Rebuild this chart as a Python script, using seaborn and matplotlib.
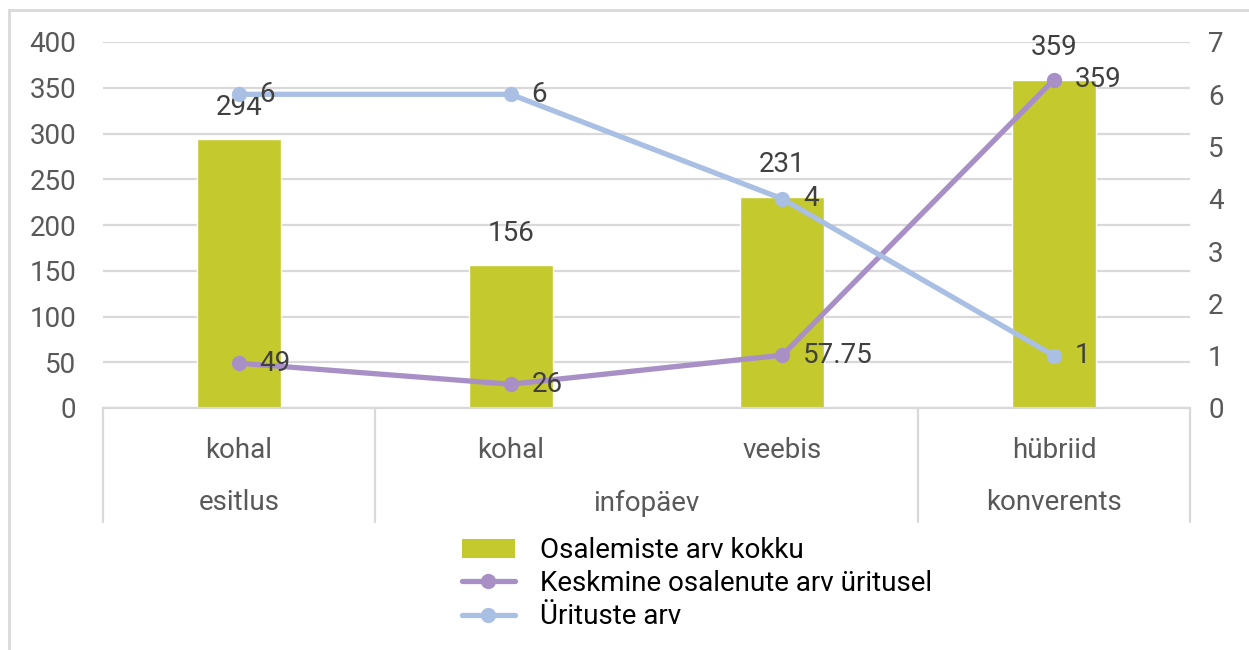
import numpy as np
import pandas as pd
import matplotlib
matplotlib.use("Agg")
import matplotlib.pyplot as plt
from matplotlib.patches import Rectangle
from matplotlib.lines import Line2D
from matplotlib.patches import Patch
import seaborn as sns

# ---- data ----
group_labels = ["esitlus", "infopäev", "infopäev", "konverents"]
sub_labels = ["kohal", "kohal", "veebis", "hübriid"]
total_participation = [294, 156, 231, 359]
avg_participants = [49, 26, 57.75, 359]
event_counts = [6, 6, 4, 1]
avg_label_text = ["49", "26", "57.75", "359"]

series_names = ["Osalemiste arv kokku", "Keskmine osalenute arv üritusel", "Ürituste arv"]

BAR_C = "#C4C92D"
PURPLE = "#A890C6"
BLUE = "#A9C0E4"
GRID = "#D9D9D9"
TICK = "#595959"
LABEL = "#404040"

sns.set_theme(style="white")
plt.rcParams["font.family"] = ["Roboto", "DejaVu Sans"]
FS = 20

keys = [f"{g}|{s}" for g, s in zip(group_labels, sub_labels)]
df = pd.DataFrame({"key": keys, "total": total_participation,
                   "avg": avg_participants, "count": event_counts})

fig = plt.figure(figsize=(12.49, 6.5), dpi=100)
ax = fig.add_axes([103/1249, 1-408/650, (1190-103)/1249, 366/650])

sns.barplot(data=df, x="key", y="total", order=keys, color=BAR_C,
            width=0.31, saturation=1, ax=ax, zorder=2)
ax.set_xlim(-0.5, 3.5)
ax.set_ylim(0, 400)
ax.set_yticks(np.arange(0, 401, 50))
ax.yaxis.grid(True, color=GRID, lw=1.6, zorder=0)
ax.set_axisbelow(True)
for s in ["top", "right", "left"]:
    ax.spines[s].set_visible(False)
ax.spines["bottom"].set_color(GRID)
ax.spines["bottom"].set_linewidth(1.6)
ax.tick_params(axis="y", labelsize=FS, labelcolor=TICK, length=0, pad=19)
ax.tick_params(axis="x", labelsize=FS, labelcolor=TICK, length=0, pad=21)
ax.set_xticks(range(len(keys)))
ax.set_xticklabels(sub_labels)
ax.set_xlabel("")
ax.set_ylabel("")

# purple line on primary axis
sns.lineplot(x=np.arange(len(keys)), y=avg_participants, ax=ax, color=PURPLE,
             lw=3.8, marker="o", markersize=11, markeredgewidth=0, zorder=4)

ax2 = ax.twinx()
sns.lineplot(x=np.arange(len(keys)), y=event_counts, ax=ax2, color=BLUE,
             lw=3.8, marker="o", markersize=11, markeredgewidth=0, zorder=4)
ax2.set_ylim(0, 7)
ax2.set_yticks(range(0, 8))
for s in ["top", "right", "left", "bottom"]:
    ax2.spines[s].set_visible(False)
ax2.tick_params(axis="y", labelsize=FS, labelcolor=TICK, length=0, pad=13)
ax2.set_ylabel("")
ax2.set_xlim(-0.5, 3.5)

# data labels
for i, v in enumerate(total_participation):
    ax.annotate(str(v), (i, v), xytext=(0, 23), textcoords="offset points",
                ha="center", va="center", fontsize=FS, color=LABEL, zorder=6)
for i, v in enumerate(avg_participants):
    ax.annotate(avg_label_text[i], (i, v), xytext=(15, 0), textcoords="offset points",
                ha="left", va="center", fontsize=FS, color=LABEL, zorder=6)
for i, v in enumerate(event_counts):
    ax2.annotate(str(v), (i, v), xytext=(15, 0), textcoords="offset points",
                 ha="left", va="center", fontsize=FS, color=LABEL, zorder=6)

# hierarchical axis: separators and group labels
sep_y = -114/366
for xs in [-0.5, 0.5, 2.5, 3.5]:
    ax.plot([xs, xs], [0, sep_y], transform=ax.get_xaxis_transform(),
            color=GRID, lw=1.6, clip_on=False)
groups = []
for i, g in enumerate(group_labels):
    if groups and groups[-1][0] == g:
        groups[-1][2] = i
    else:
        groups.append([g, i, i])
for g, a, b in groups:
    ax.text((a + b) / 2, -95/366, g, transform=ax.get_xaxis_transform(),
            ha="center", va="center", fontsize=FS, color=TICK)

# legend
handles = [Patch(facecolor=BAR_C, edgecolor="none"),
           Line2D([], [], color=PURPLE, lw=3.8, marker="o", markersize=11, markeredgewidth=0),
           Line2D([], [], color=BLUE, lw=3.8, marker="o", markersize=11, markeredgewidth=0)]
leg = fig.legend(handles, series_names, loc="upper left", bbox_to_anchor=(462/1249, 1-537/650),
                 frameon=False, fontsize=FS, labelspacing=0.22, handlelength=1.9,
                 handletextpad=0.9, borderaxespad=0, borderpad=0)
for t in leg.get_texts():
    t.set_color("#000000")

# outer chart frame
fig.patches.append(Rectangle((9/1249, -0.1), 1.2, 1.1 - 10/650, transform=fig.transFigure,
                             fill=False, edgecolor=GRID, lw=2, zorder=0))

fig.savefig("out.png", dpi=100)
